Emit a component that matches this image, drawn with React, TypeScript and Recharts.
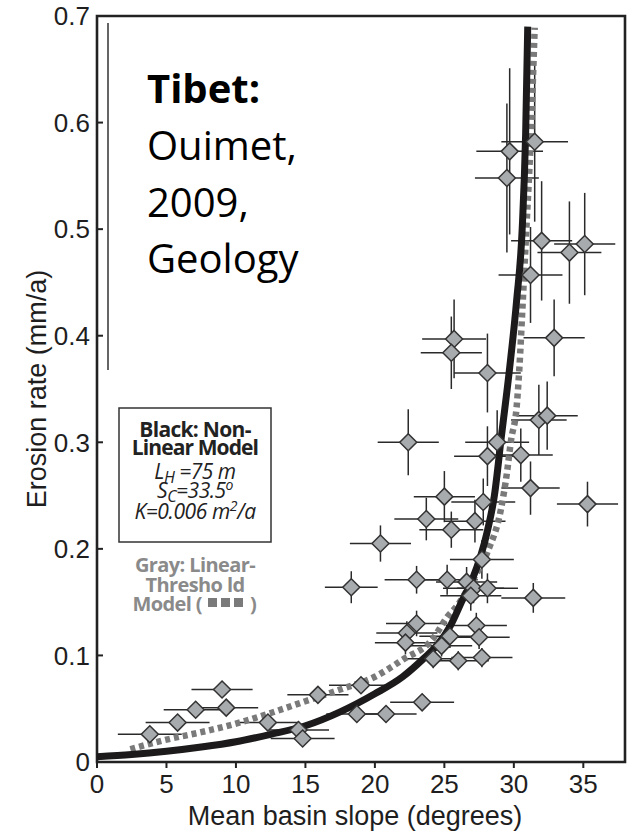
import React from 'react';
import {
  ComposedChart, Scatter, Line, XAxis, YAxis, ErrorBar, ReferenceArea,
} from 'recharts';

// ─── basin data: mean slope (deg) vs erosion rate (mm/a) ──────────────────────

const slope = [
  31.5, 29.7, 29.5, 32.0, 34.0, 35.1, 31.2, 25.7, 25.5, 28.1,
  32.9, 31.8, 32.4, 22.4, 28.8, 28.1, 30.5, 31.2, 25.0, 35.3,
  27.8, 23.7, 27.2, 25.5, 20.4, 27.7, 18.3, 23.0, 25.2, 26.6,
  27.1, 28.1, 26.9, 31.4, 27.3, 23.0, 22.3, 22.2, 25.4, 27.5,
  24.8, 24.2, 26.0, 27.7, 23.4, 19.0, 15.9, 18.7, 20.8, 14.5,
  14.8, 12.3, 9.0, 9.3, 7.1, 5.8, 3.8,
];
const erosion = [
  0.582, 0.573, 0.548, 0.489, 0.478, 0.486, 0.457, 0.397, 0.384, 0.365,
  0.398, 0.321, 0.325, 0.300, 0.300, 0.287, 0.288, 0.257, 0.249, 0.242,
  0.244, 0.228, 0.226, 0.218, 0.205, 0.190, 0.164, 0.171, 0.171, 0.169,
  0.163, 0.163, 0.156, 0.154, 0.128, 0.130, 0.121, 0.112, 0.118, 0.117,
  0.109, 0.097, 0.095, 0.098, 0.056, 0.072, 0.063, 0.045, 0.045, 0.030,
  0.022, 0.037, 0.068, 0.051, 0.049, 0.037, 0.026,
];
const slopeErr = [
  2.4, 2.4, 2.3, 2.2, 2.3, 2.2, 2.3, 2.3, 2.2, 2.4,
  2.2, 2.0, 2.2, 2.2, 2.3, 2.4, 2.3, 2.1, 2.2, 2.2,
  2.3, 2.3, 2.2, 2.3, 2.2, 2.3, 1.9, 2.3, 2.2, 2.2,
  2.2, 2.2, 2.2, 2.3, 2.2, 2.2, 2.2, 2.2, 2.2, 2.2,
  2.2, 2.2, 2.2, 2.2, 2.3, 2.3, 2.2, 2.2, 2.2, 2.2,
  2.3, 2.2, 2.2, 2.3, 2.3, 2.3, 2.3,
];
const erosionErr = [
  0.075, 0.078, 0.070, 0.056, 0.048, 0.048, 0.045, 0.037, 0.034, 0.037,
  0.036, 0.033, 0.032, 0.031, 0.030, 0.028, 0.025, 0.025, 0.024, 0.021,
  0.022, 0.020, 0.020, 0.017, 0.017, 0.018, 0.015, 0.013, 0.014, 0.014,
  0.014, 0.014, 0.014, 0.014, 0.012, 0.012, 0.011, 0.011, 0.011, 0.011,
  0.010, 0.009, 0.009, 0.009, 0.005, 0.005, 0.005, 0.005, 0.005, 0.005,
  0.005, 0.005, 0.005, 0.005, 0.005, 0.005, 0.005,
];

// non-linear model (black)
const nlSlope = [0, 2.5, 5, 7.5, 10, 12.5, 15, 17.5, 20, 22, 23.5, 24.5, 25.4, 26.3, 27, 28.1, 28.6, 29.1, 29.7, 30.2, 30.6, 30.85, 31.0];
const nlErosion = [0.005, 0.007, 0.010, 0.014, 0.019, 0.026, 0.034, 0.047, 0.064, 0.080, 0.097, 0.110, 0.127, 0.152, 0.171, 0.217, 0.250, 0.305, 0.370, 0.433, 0.500, 0.590, 0.690];

// linear-threshold model (gray, dotted)
const ltSlope = [2.4, 5, 7.5, 10, 12.5, 15, 17.5, 20, 22, 24.2, 25.2, 26, 27, 28.1, 29.1, 29.5, 29.8, 30.2, 30.4, 30.6, 30.9, 31.2, 31.5];
const ltErosion = [0.012, 0.021, 0.028, 0.036, 0.046, 0.057, 0.068, 0.080, 0.096, 0.116, 0.136, 0.148, 0.170, 0.197, 0.239, 0.271, 0.302, 0.333, 0.370, 0.421, 0.500, 0.580, 0.689];

const xTicks = [0, 5, 10, 15, 20, 25, 30, 35];
const yTicks = [0, 0.1, 0.2, 0.3, 0.4, 0.5, 0.6, 0.7];

const points = slope.map((x, i) => ({ x, y: erosion[i], xe: slopeErr[i], ye: erosionErr[i] }));
const nlCurve = nlSlope.map((x, i) => ({ x, y: nlErosion[i] }));
const ltCurve = ltSlope.map((x, i) => ({ x, y: ltErosion[i] }));

const AXIS_FONT = { fontSize: 26, fill: '#1e1e1e', fontFamily: '"Liberation Sans", Arial, sans-serif' };

const Diamond = (props: any) => {
  const { cx, cy } = props;
  if (cx == null || cy == null) return <g />;
  const r = 8.5;
  return (
    <path
      d={`M${cx},${cy - r}L${cx + r},${cy}L${cx},${cy + r}L${cx - r},${cy}Z`}
      fill="#a8abae"
      stroke="#333"
      strokeWidth={1.5}
    />
  );
};

const Nothing = () => <g />;

export default function App() {
  return (
    <div style={{ position: 'fixed', left: 0, top: 0, width: 635, height: 831, background: '#fff' }}>
      <ComposedChart width={635} height={831} margin={{ top: 16, right: 0, left: 0, bottom: 0 }}>
        <XAxis
          type="number" dataKey="x" domain={[0, 38]} ticks={xTicks} allowDataOverflow
          height={69} tickSize={6} tickMargin={7} axisLine={false}
          tickLine={{ stroke: '#222', strokeWidth: 2 }} tick={AXIS_FONT}
        />
        <YAxis
          type="number" dataKey="y" domain={[0, 0.7]} ticks={yTicks} allowDataOverflow
          width={97} tickSize={-6} tickMargin={13} axisLine={false}
          tickLine={{ stroke: '#222', strokeWidth: 2 }} tick={AXIS_FONT}
          tickFormatter={(v: number) => (v === 0 ? '0' : v.toFixed(1))}
        />
        <YAxis
          yAxisId="right" orientation="right" type="number" domain={[0, 0.7]}
          ticks={[0.1, 0.2, 0.3, 0.4, 0.5, 0.6]} width={10} tickSize={-7} axisLine={false}
          tickLine={{ stroke: '#222', strokeWidth: 2 }} tickFormatter={() => ''}
        />

        {/* error bars first so the curves sit on top of them */}
        <Scatter data={points} shape={Nothing} isAnimationActive={false}>
          <ErrorBar dataKey="xe" direction="x" width={0} stroke="#2a2a2a" strokeWidth={1.5} />
          <ErrorBar dataKey="ye" direction="y" width={0} stroke="#2a2a2a" strokeWidth={1.5} />
        </Scatter>

        <Line
          data={ltCurve} dataKey="y" type="monotone" stroke="#7a7a7a" strokeWidth={6.5}
          strokeDasharray="5 4" dot={false} isAnimationActive={false}
        />
        <Line
          data={nlCurve} dataKey="y" type="monotone" stroke="#1c1a1a" strokeWidth={7}
          dot={false} isAnimationActive={false}
        />

        <Scatter data={points} shape={Diamond} isAnimationActive={false} />

        <ReferenceArea
          x1={0} x2={38} y1={0} y2={0.7} fill="none" stroke="#222" strokeWidth={2.6}
          ifOverflow="visible"
        />
      </ComposedChart>

      <svg
        width={635} height={831}
        style={{ position: 'absolute', left: 0, top: 0, pointerEvents: 'none' }}
      >
        {/* axis titles */}
        <text
          transform="translate(46, 389) rotate(-90)" textAnchor="middle"
          style={{ ...AXIS_FONT, fontSize: 27 }} fill="#1e1e1e"
        >
          Erosion rate (mm/a)
        </text>
        <text x={355} y={825} textAnchor="middle" style={{ ...AXIS_FONT, fontSize: 27 }} fill="#1e1e1e">
          Mean basin slope (degrees)
        </text>

        {/* source note */}
        <line x1={108} y1={23} x2={108} y2={370} stroke="#111" strokeWidth={1.3} />
        <g fontFamily="Open Sans, sans-serif" fontSize={40} fill="#000">
          <text x={147} y={103} fontWeight={700}>Tibet:</text>
          <text x={147} y={160}>Ouimet,</text>
          <text x={147} y={217}>2009,</text>
          <text x={147} y={273}>Geology</text>
        </g>

        {/* model legend */}
        <rect x={119} y={408} width={152} height={134} fill="#fff" stroke="#333" strokeWidth={1.5} />
        <g fontFamily="Open Sans, sans-serif" textAnchor="middle" fill="#222">
          <text x={195} y={437} fontSize={21} fontWeight={700} letterSpacing={-0.7}>Black: Non-</text>
          <text x={195} y={455} fontSize={21} fontWeight={700} letterSpacing={-0.9}>Linear Model</text>
          <text x={195} y={479} fontSize={21} fontStyle="italic" letterSpacing={-0.5}>
            L<tspan dy={4} fontSize={16}>H</tspan><tspan dy={-4}> =75 m</tspan>
          </text>
          <text x={195} y={498} fontSize={21} fontStyle="italic" letterSpacing={-0.5}>
            S<tspan dy={4} fontSize={16}>C</tspan><tspan dy={-4}>=33.5</tspan><tspan dy={-8} fontSize={14}>o</tspan>
          </text>
          <text x={195} y={519} fontSize={21} fontStyle="italic" letterSpacing={-0.4}>
            K=0.006 m<tspan dy={-8} fontSize={14}>2</tspan><tspan dy={8}>/a</tspan>
          </text>
        </g>
        <g fontFamily="Open Sans, sans-serif" fill="#8a8a8a" fontWeight={700} fontSize={20} letterSpacing={-0.6}>
          <text x={195} y={572} textAnchor="middle">Gray: Linear-</text>
          <text x={195} y={592} textAnchor="middle">Thresho ld</text>
          <text x={202} y={611} textAnchor="end">Model (</text>
          <text x={250} y={611}>)</text>
        </g>
        {/* dotted-line key */}
        <g fill="#7a7a7a">
          <rect x={208} y={598} width={9} height={9} />
          <rect x={221} y={598} width={9} height={9} />
          <rect x={234} y={598} width={9} height={9} />
        </g>
      </svg>
    </div>
  );
}
